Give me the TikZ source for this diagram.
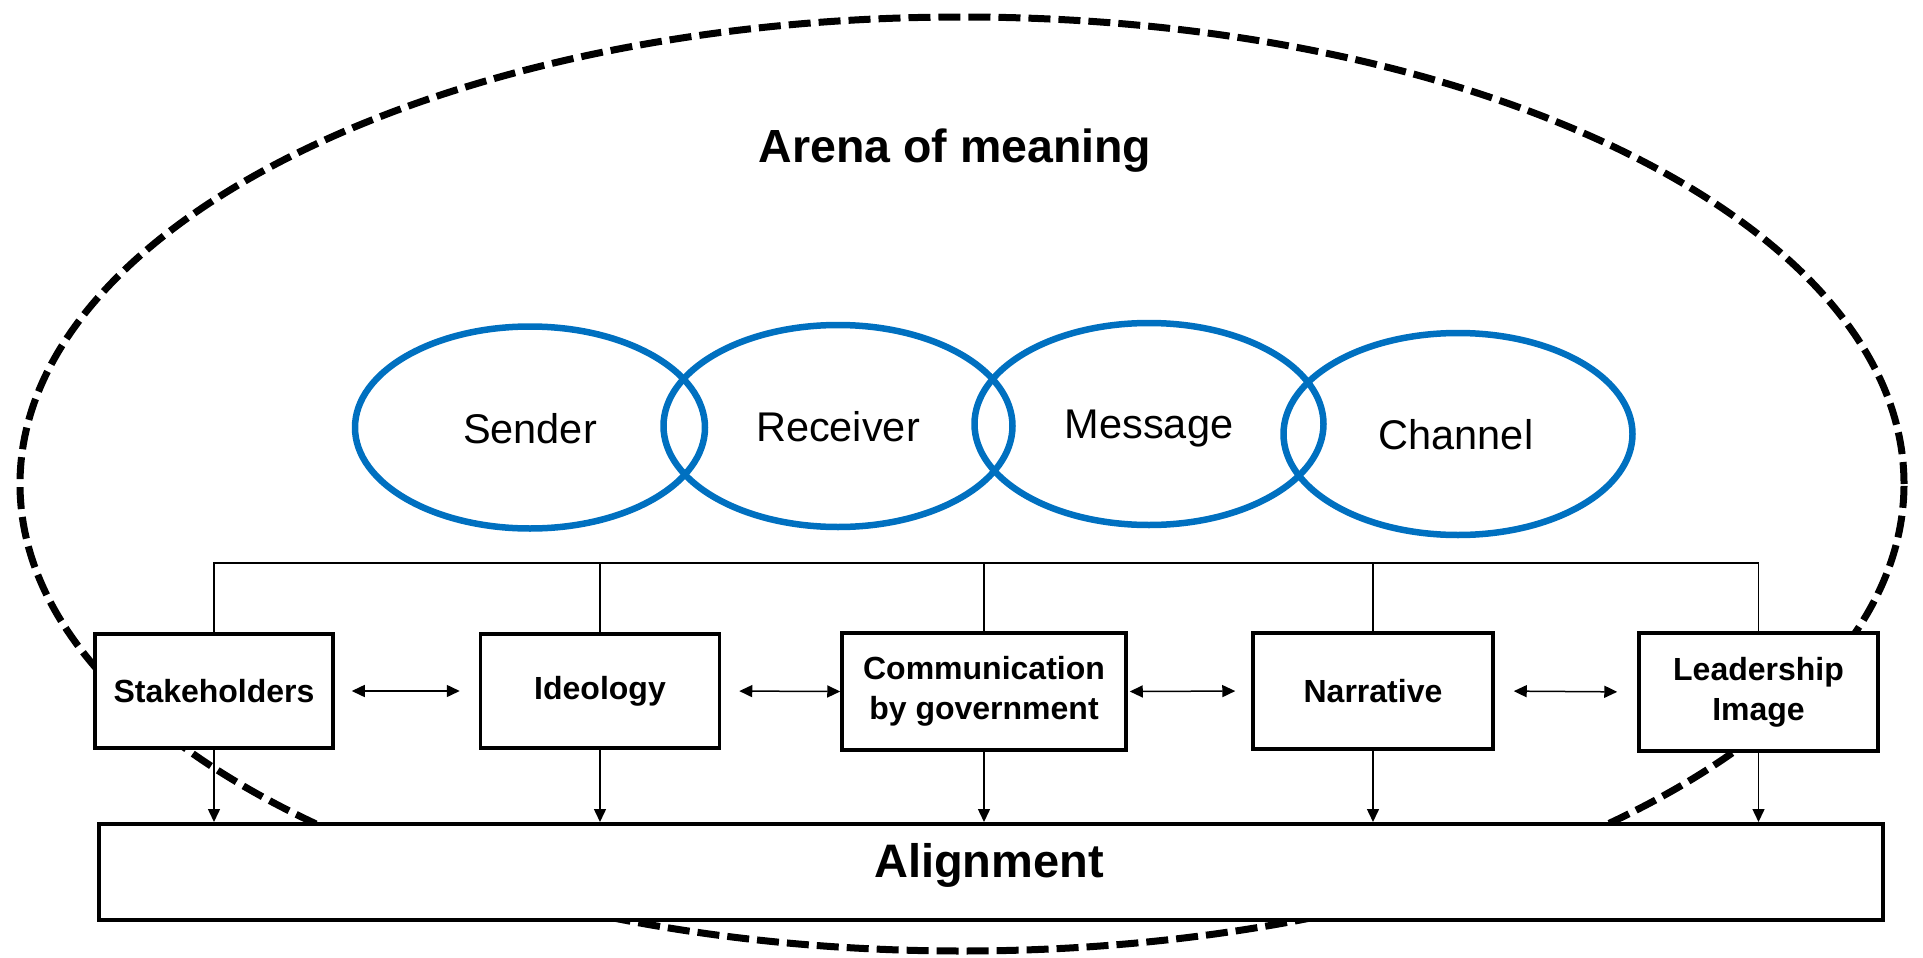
\documentclass[tikz,border=0pt]{standalone}
\usepackage{fontspec}
\setmainfont{Liberation Sans}
\usetikzlibrary{arrows.meta}
\definecolor{ringblue}{HTML}{0070C0}
\begin{document}
\begin{tikzpicture}[x=1pt,y=-1pt,
  box/.style={draw,line width=3.5pt,fill=white,font=\fontsize{32}{40}\selectfont\bfseries,align=center,inner sep=0pt},
  ring/.style={draw=ringblue,line width=6.5pt},
  thinline/.style={line width=1.5pt},
  tip/.style={-{Triangle[length=13pt,width=12pt]}},
  dtip/.style={{Triangle[length=13pt,width=12pt]}-{Triangle[length=13pt,width=12pt]}},
  ringtext/.style={font=\fontsize{41.5}{48}\selectfont,anchor=base,inner sep=0pt}]
\useasboundingbox (0,0) rectangle (1923,958);
% arena
\draw[line width=7pt, dash pattern=on 22pt off 8pt] (962,484) ellipse [x radius=942pt, y radius=467pt];
\node[font=\fontsize{46.5}{56}\selectfont\bfseries, anchor=base, inner sep=0pt] (title) at (955,162) {Arena of meaning};
% rings
\draw[ring] (530,427.5) ellipse [x radius=175pt, y radius=101pt];
\draw[ring] (838,426) ellipse [x radius=174.5pt, y radius=101pt];
\draw[ring] (1149,424) ellipse [x radius=174.5pt, y radius=101pt];
\draw[ring] (1458,434) ellipse [x radius=174.5pt, y radius=101pt];
\node[ringtext] (sender) at (530,443) {Sender};
\node[ringtext] (receiver) at (838,441) {Receiver};
\node[ringtext] (message) at (1149,438) {Message};
\node[ringtext] (channel) at (1456,449) {Channel};
% boxes
\node[box,minimum width=238pt,minimum height=114pt] (S) at (214,691) {Stakeholders};
\node[box,minimum width=239pt,minimum height=114pt] (I) at (600,691) {Ideology};
\node[box,minimum width=284pt,minimum height=117pt] (C) at (984,691.5) {Communication\\by government};
\node[box,minimum width=240pt,minimum height=116pt] (N) at (1373,691) {Narrative};
\node[box,minimum width=239pt,minimum height=118pt] (L) at (1758.5,692) {Leadership\\Image};
\node[box,line width=4pt,minimum width=1784pt,minimum height=96pt] (A) at (991,872) {};
\node[font=\fontsize{47}{56}\selectfont\bfseries, anchor=base, inner sep=0pt] (altext) at (989,877) {Alignment};
% bus
\coordinate (bus) at (0,563);
\draw[thinline] (S.north) -- (S.north |- bus) -- (L.north |- bus) -- (L.north);
\foreach \n in {I,C,N} \draw[thinline] (\n.north) -- (\n.north |- bus);
% down arrows
\foreach \n in {S,I,C,N,L} \draw[thinline,tip] (\n.south) -- (\n.south |- A.north);
% double arrows
\draw[thinline,dtip,shorten <=17pt,shorten >=19pt] (S.east) -- (I.west);
\draw[thinline,dtip,shorten <=18pt,shorten >=0pt] (I.east) -- (C.west);
\draw[thinline,dtip,shorten <=2pt,shorten >=16pt] (C.east) -- (N.west);
\draw[thinline,dtip,shorten <=19pt,shorten >=20pt] (N.east) -- (L.west);
\end{tikzpicture}
\end{document}
